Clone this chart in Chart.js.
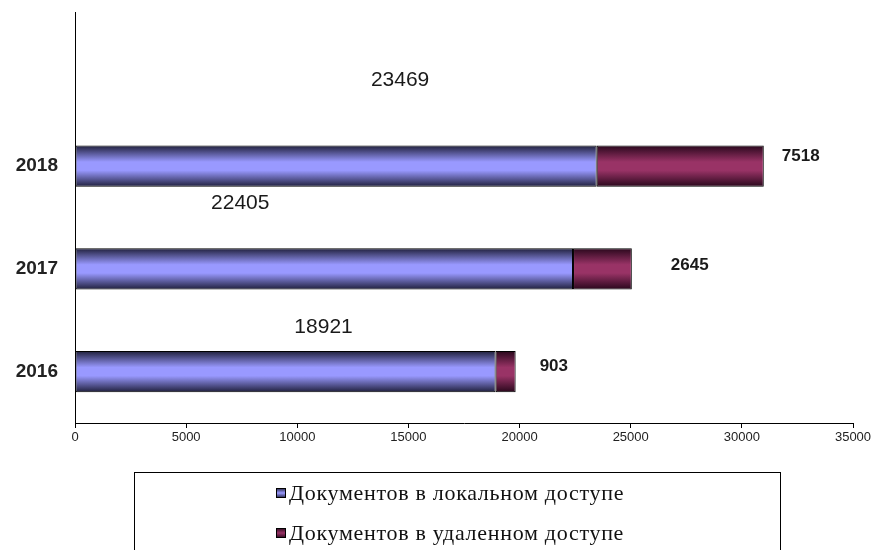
<!DOCTYPE html>
<html>
<head>
<meta charset="utf-8">
<script src="https://cdn.jsdelivr.net/npm/chart.js@4.4.1/dist/chart.umd.min.js"></script>
<style>
  html, body { margin: 0; padding: 0; background: #fff; }
  #wrap { width: 878px; height: 550px; }
</style>
</head>
<body>
<div id="wrap"><canvas id="grafico"></canvas></div>
<script>
/* datos */
const years = ['', '2018', '2017', '2016'];
const localDocs = [null, 23469, 22405, 18921];
const remoteDocs = [null, 7518, 2645, 903];
const xTicks = [0, 5000, 10000, 15000, 20000, 25000, 30000, 35000];
const seriesNames = ['Документов в локальном доступе', 'Документов в удаленном доступе'];

/* label offsets in px (local: from bar middle, remote: from bar end) */
const localLabelOffset = [null, [64, -86], [-84, -66], [38, -44]];
const remoteLabelOffset = [null, [18, -10], [39, -4], [24, -5]];

function barGradient(ctx, dark, light) {
    const chart = ctx.chart;
    if (!chart.chartArea) return light;
    const y = chart.scales.y.getPixelForValue(ctx.dataIndex);
    const h = 21;
    const g = chart.ctx.createLinearGradient(0, y - h, 0, y + h);
    g.addColorStop(0, dark);
    g.addColorStop(0.4, light);
    g.addColorStop(0.6, light);
    g.addColorStop(1, dark);
    return g;
}

const colors = [
    ['#1c1c36', '#9999ff'],
    ['#26061a', '#993366']
];

const labelsPlugin = {
    id: 'valueLabels',
    afterDatasetsDraw(chart) {
        const c = chart.ctx;
        c.save();
        c.fillStyle = '#1a1a1a';
        c.textBaseline = 'middle';
        const m0 = chart.getDatasetMeta(0);
        const m1 = chart.getDatasetMeta(1);
        m0.data.forEach((bar, i) => {
            if (localDocs[i] == null) return;
            const mid = (bar.x + bar.base) / 2;
            c.font = '21px "Liberation Sans", Arial, sans-serif';
            c.textAlign = 'center';
            c.fillText(localDocs[i], mid + localLabelOffset[i][0], bar.y + localLabelOffset[i][1]);
        });
        m1.data.forEach((bar, i) => {
            if (remoteDocs[i] == null) return;
            c.font = 'bold 17px "Liberation Sans", Arial, sans-serif';
            c.textAlign = 'left';
            c.fillText(remoteDocs[i], bar.x + remoteLabelOffset[i][0], bar.y + remoteLabelOffset[i][1]);
        });
        c.restore();
    }
};

const legendBoxPlugin = {
    id: 'legendBox',
    afterDraw(chart) {
        const c = chart.ctx;
        c.save();
        c.strokeStyle = '#000';
        c.lineWidth = 1;
        c.strokeRect(134.5, 472.5, 646, 100);
        c.font = '22px "Liberation Serif", "Times New Roman", serif';
        c.letterSpacing = '0.7px';
        c.textBaseline = 'middle';
        c.textAlign = 'left';
        const rows = [493, 533];
        seriesNames.forEach((name, i) => {
            const y = rows[i];
            const g = c.createLinearGradient(0, y - 5, 0, y + 5);
            g.addColorStop(0, colors[i][0]);
            g.addColorStop(0.5, colors[i][1]);
            g.addColorStop(1, colors[i][0]);
            c.fillStyle = g;
            c.fillRect(276, y - 5, 10, 10);
            c.strokeStyle = '#000';
            c.strokeRect(276.5, y - 4.5, 9, 9);
            c.fillStyle = '#111';
            c.fillText(name, 289, y + 1);
        });
        c.restore();
    }
};

const grafico = document.getElementById('grafico').getContext('2d');

new Chart(grafico, {
    type: 'bar',
    data: {
        labels: years,
        datasets: [{
            label: seriesNames[0],
            data: localDocs,
            backgroundColor: (ctx) => barGradient(ctx, colors[0][0], colors[0][1]),
            borderColor: '#000',
            borderWidth: 1,
            borderSkipped: false,
            barPercentage: 0.4,
            categoryPercentage: 1
        }, {
            label: seriesNames[1],
            data: remoteDocs,
            backgroundColor: (ctx) => barGradient(ctx, colors[1][0], colors[1][1]),
            borderColor: '#000',
            borderWidth: 1,
            borderSkipped: false,
            barPercentage: 0.4,
            categoryPercentage: 1
        }]
    },
    options: {
        indexAxis: 'y',
        responsive: true,
        maintainAspectRatio: false,
        animation: false,
        layout: {
            padding: { top: 12, right: 25, bottom: 97, left: 0 }
        },
        plugins: {
            legend: { display: false },
            tooltip: { enabled: false }
        },
        scales: {
            x: {
                stacked: true,
                min: 0,
                max: 35000,
                afterFit: (s) => { s.height = 30; },
                afterBuildTicks: (s) => { s.ticks = xTicks.map(v => ({ value: v })); },
                border: { display: true, color: '#000', width: 1 },
                grid: {
                    drawOnChartArea: false,
                    drawTicks: true,
                    tickLength: 5,
                    color: '#000'
                },
                ticks: {
                    color: '#222',
                    padding: 2,
                    maxRotation: 0,
                    callback: (v) => String(v),
                    font: { size: 13, family: '"Liberation Sans", Arial, sans-serif' }
                }
            },
            y: {
                stacked: true,
                afterFit: (s) => { s.width = 75; s.paddingTop = 0; s.paddingBottom = 0; },
                border: { display: true, color: '#000', width: 1 },
                grid: { display: false, drawTicks: false },
                ticks: {
                    color: '#222',
                    padding: 17,
                    font: { size: 19, weight: 'bold', family: '"Liberation Sans", Arial, sans-serif' }
                }
            }
        }
    },
    plugins: [labelsPlugin, legendBoxPlugin]
});
</script>
</body>
</html>
